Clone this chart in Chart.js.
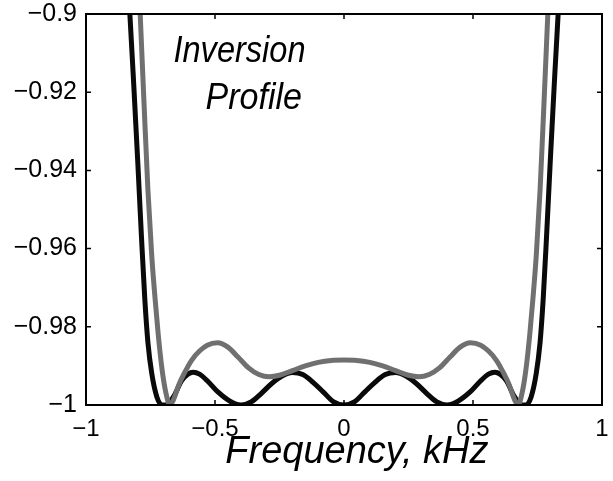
<!DOCTYPE html>
<html>
<head>
<meta charset="utf-8">
<script src="https://cdn.jsdelivr.net/npm/chart.js@4/dist/chart.umd.min.js"></script>
<style>
  html, body { margin: 0; padding: 0; background: #fff; }
  #wrap { width: 613px; height: 481px; position: relative; }
  canvas { display: block; }
</style>
</head>
<body>
<div id="wrap"><canvas id="c" width="613" height="481" style="width:613px;height:481px"></canvas></div>
<script>
// ---- data ----
const xTickValues = [-1, -0.5, 0, 0.5, 1];
const xTickLabels = ['\u22121', '\u22120.5', '0', '0.5', '1'];
const yTickValues = [-1, -0.98, -0.96, -0.94, -0.92, -0.9];
const yTickLabels = ['\u22121', '\u22120.98', '\u22120.96', '\u22120.94', '\u22120.92', '\u22120.9'];

const blackFreq = [-0.855, -0.83, -0.815, -0.80, -0.785, -0.772, -0.76, -0.745, -0.725, -0.705, -0.69,
  -0.66, -0.63, -0.605, -0.585, -0.56, -0.53, -0.49, -0.44, -0.40, -0.36, -0.32, -0.28, -0.24, -0.20,
  -0.16, -0.12, -0.08, -0.04, 0,
  0.04, 0.08, 0.12, 0.16, 0.20, 0.24, 0.28, 0.32, 0.36, 0.40, 0.44, 0.49, 0.53, 0.56, 0.585, 0.605,
  0.63, 0.66, 0.69, 0.705, 0.725, 0.745, 0.76, 0.772, 0.785, 0.80, 0.815, 0.83, 0.855];
const blackInv = [-0.875, -0.9, -0.918, -0.937, -0.957, -0.973, -0.984, -0.992, -0.998, -1.0, -1.0,
  -0.9978, -0.9938, -0.9921, -0.9916, -0.9921, -0.9938, -0.9966, -0.9991, -1.0, -0.9992, -0.9970, -0.9945, -0.9926, -0.9917,
  -0.9922, -0.9942, -0.9967, -0.9992, -1.0,
  -0.9992, -0.9967, -0.9942, -0.9922, -0.9917, -0.9926, -0.9945, -0.9970, -0.9992, -1.0, -0.9991, -0.9966, -0.9938, -0.9921, -0.9916, -0.9921,
  -0.9938, -0.9978, -1.0, -1.0, -0.998, -0.992, -0.984, -0.973, -0.957, -0.937, -0.918, -0.9, -0.875];

const grayFreq = [-0.81, -0.79, -0.775, -0.76, -0.745, -0.732, -0.72, -0.705, -0.69, -0.675,
  -0.66, -0.64, -0.62, -0.59, -0.56, -0.53, -0.49, -0.45, -0.41, -0.37, -0.33, -0.29, -0.25, -0.20,
  -0.15, -0.10, -0.05, 0,
  0.05, 0.10, 0.15, 0.20, 0.25, 0.29, 0.33, 0.37, 0.41, 0.45, 0.49, 0.53, 0.56, 0.59, 0.62, 0.64, 0.66,
  0.675, 0.69, 0.705, 0.72, 0.732, 0.745, 0.76, 0.775, 0.79, 0.81];
const grayInv = [-0.87, -0.9, -0.923, -0.945, -0.962, -0.973, -0.982, -0.991, -0.997, -1.0,
  -0.9985, -0.9948, -0.992, -0.9885, -0.9862, -0.9847, -0.9841, -0.9852, -0.9878, -0.9905, -0.9922, -0.9928, -0.9924, -0.9912,
  -0.9900, -0.9891, -0.9886, -0.9885,
  -0.9886, -0.9891, -0.9900, -0.9912, -0.9924, -0.9928, -0.9922, -0.9905, -0.9878, -0.9852, -0.9841, -0.9847, -0.9862, -0.9885, -0.992, -0.9948, -0.9985,
  -1.0, -0.997, -0.991, -0.982, -0.973, -0.962, -0.945, -0.923, -0.9, -0.87];

const xTitle = 'Frequency, kHz';
const noteLines = ['Inversion', 'Profile'];

// ---- build ----
const toPts = (xs, ys) => xs.map((x, i) => ({ x: x, y: ys[i] }));
const FONT = "'Liberation Sans', Arial, Helvetica, sans-serif";

const framePlugin = {
  id: 'frame',
  afterDatasetsDraw(chart) {
    const { ctx, chartArea: a, scales } = chart;
    ctx.save();
    ctx.strokeStyle = '#000';
    ctx.lineWidth = 2;
    ctx.strokeRect(a.left, a.top, a.right - a.left, a.bottom - a.top);
    const tl = 5;
    ctx.lineWidth = 1.5;
    ctx.beginPath();
    xTickValues.forEach(v => {
      const px = scales.x.getPixelForValue(v);
      ctx.moveTo(px, a.bottom); ctx.lineTo(px, a.bottom - tl);
      ctx.moveTo(px, a.top); ctx.lineTo(px, a.top + tl);
    });
    yTickValues.forEach(v => {
      const py = scales.y.getPixelForValue(v);
      ctx.moveTo(a.left, py); ctx.lineTo(a.left + tl, py);
      ctx.moveTo(a.right, py); ctx.lineTo(a.right - tl, py);
    });
    ctx.stroke();
    ctx.fillStyle = '#000';
    ctx.textBaseline = 'alphabetic';
    ctx.textAlign = 'center';
    // annotation text inside the plot
    const drawCond = (txt, x, y, sx) => {
      ctx.save(); ctx.translate(x, y); ctx.scale(sx, 1); ctx.fillText(txt, 0, 0); ctx.restore();
    };
    ctx.font = 'italic 37px ' + FONT;
    drawCond(noteLines[0], scales.x.getPixelForValue(-0.405), scales.y.getPixelForValue(-0.9122), 0.88);
    drawCond(noteLines[1], scales.x.getPixelForValue(-0.35), scales.y.getPixelForValue(-0.9242), 0.92);
    // x-axis title
    ctx.font = 'italic 38px ' + FONT;
    ctx.fillText(xTitle, scales.x.getPixelForValue(0.05), a.bottom + 58);
    ctx.restore();
  }
};

new Chart(document.getElementById('c'), {
  type: 'line',
  data: {
    datasets: [
      {
        data: toPts(grayFreq, grayInv),
        borderColor: '#707070',
        borderWidth: 5,
        pointRadius: 0,
        cubicInterpolationMode: 'monotone',
        borderJoinStyle: 'round',
        order: 1
      },
      {
        data: toPts(blackFreq, blackInv),
        borderColor: '#0a0a0a',
        borderWidth: 5,
        pointRadius: 0,
        cubicInterpolationMode: 'monotone',
        borderJoinStyle: 'round',
        order: 2
      }
    ]
  },
  options: {
    responsive: false,
    animation: false,
    devicePixelRatio: 1,
    layout: { padding: { top: 14, right: 11, left: 0, bottom: 0 } },
    plugins: { legend: { display: false }, tooltip: { enabled: false }, title: { display: false } },
    scales: {
      x: {
        type: 'linear',
        min: -1, max: 1,
        afterBuildTicks: s => { s.ticks = xTickValues.map(v => ({ value: v })); },
        afterFit: s => { s.height = 76; s.paddingLeft = 0; s.paddingRight = 0; },
        grid: { display: false, drawTicks: false },
        border: { display: false },
        ticks: {
          color: '#000',
          padding: 10,
          maxRotation: 0,
          autoSkip: false,
          font: { family: FONT, size: 24 },
          callback: (v) => { const i = xTickValues.indexOf(v); return i >= 0 ? xTickLabels[i] : ''; }
        },
        title: { display: false }
      },
      y: {
        type: 'linear',
        min: -1, max: -0.9,
        afterBuildTicks: s => { s.ticks = yTickValues.map(v => ({ value: v })); },
        afterFit: s => { s.width = 86; s.paddingTop = 0; s.paddingBottom = 0; },
        grid: { display: false, drawTicks: false },
        border: { display: false },
        ticks: {
          color: '#000',
          padding: 9,
          autoSkip: false,
          font: { family: FONT, size: 25 },
          callback: (v) => {
            const i = yTickValues.findIndex(t => Math.abs(t - v) < 1e-9);
            return i >= 0 ? yTickLabels[i] : '';
          }
        }
      }
    }
  },
  plugins: [framePlugin]
});
</script>
</body>
</html>
